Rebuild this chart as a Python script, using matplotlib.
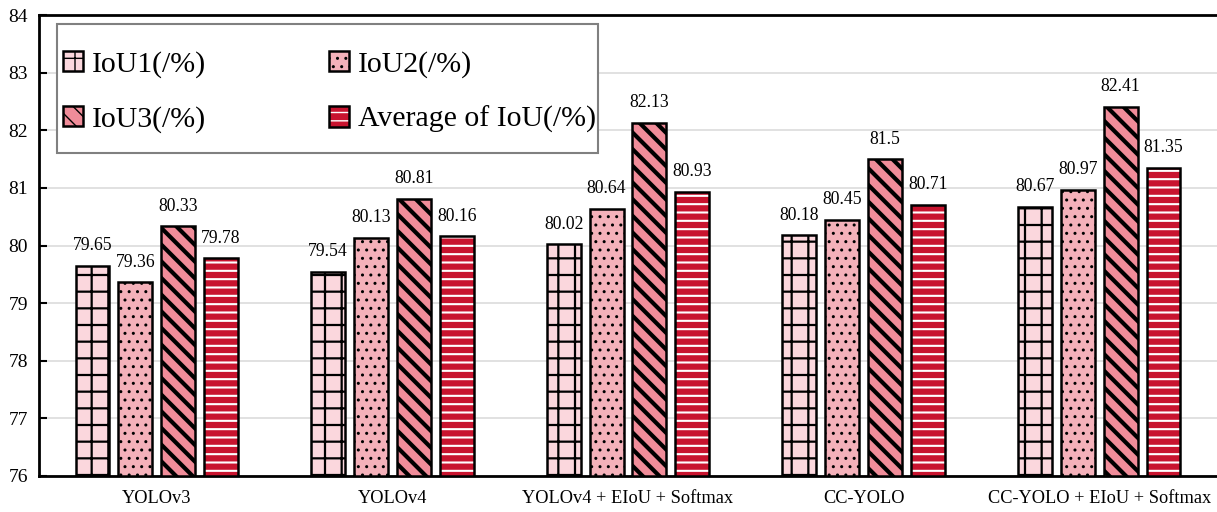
import matplotlib.pyplot as plt
import matplotlib.patches as mpatches
import numpy as np

plt.rcParams['font.family'] = ['Liberation Serif', 'DejaVu Serif']

# Data
models = ['YOLOv3', 'YOLOv4', 'YOLOv4 + EIoU + Softmax', 'CC-YOLO', 'CC-YOLO + EIoU + Softmax']
iou1 = [79.65, 79.54, 80.02, 80.18, 80.67]
iou2 = [79.36, 80.13, 80.64, 80.45, 80.97]
iou3 = [80.33, 80.81, 82.13, 81.5, 82.41]
iou_avg = [79.78, 80.16, 80.93, 80.71, 81.35]
series_names = ['IoU1(/%)', 'IoU2(/%)', 'IoU3(/%)', 'Average of IoU(/%)']
labels_txt = [['79.65', '79.54', '80.02', '80.18', '80.67'],
              ['79.36', '80.13', '80.64', '80.45', '80.97'],
              ['80.33', '80.81', '82.13', '81.5', '82.41'],
              ['79.78', '80.16', '80.93', '80.71', '81.35']]

fig = plt.figure(figsize=(12.17, 5.12), dpi=100)
ax = fig.add_axes([39/1217, 36/512, 1 - 39/1217, (476 - 15)/512])

x = np.arange(len(models))
w = 0.144
pitch = 0.182
offsets = [-1.5*pitch, -0.5*pitch, 0.5*pitch, 1.5*pitch]
base = 76

with plt.rc_context({'hatch.linewidth': 1.6}):
    b1 = ax.bar(x + offsets[0], np.array(iou1) - base, w, bottom=base, color='#fbd7dd',
                edgecolor='black', linewidth=1.8, hatch='+', zorder=3, label=series_names[0])
with plt.rc_context({'hatch.linewidth': 1.0}):
    b2 = ax.bar(x + offsets[1], np.array(iou2) - base, w, bottom=base, color='#f4b1ba',
                edgecolor='black', linewidth=1.8, hatch='..', zorder=3, label=series_names[1])
with plt.rc_context({'hatch.linewidth': 3.0}):
    b3 = ax.bar(x + offsets[2], np.array(iou3) - base, w, bottom=base, color='#f08c99',
                edgecolor='black', linewidth=1.8, hatch='\\\\', zorder=3, label=series_names[2])
with plt.rc_context({'hatch.linewidth': 1.5}):
    b4 = ax.bar(x + offsets[3], np.array(iou_avg) - base, w, bottom=base, color='#c8142f',
                edgecolor='black', linewidth=1.8, hatch='--', zorder=3, label=series_names[3])
# white stripes on the average bars
for p in b4.patches:
    p._hatch_color = (1, 1, 1, 1)

for k, vals in enumerate([iou1, iou2, iou3, iou_avg]):
    for i, v in enumerate(vals):
        ax.text(x[i] + offsets[k], v + 0.2, labels_txt[k][i], ha='center', va='bottom',
                fontsize=12.7, zorder=5)

ax.set_ylim(76, 84)
ax.set_xlim(-0.5, 4.5)
ax.set_yticks(range(76, 85))
ax.set_xticks(x)
ax.set_xticklabels(models, fontsize=13.2)
ax.tick_params(axis='y', direction='in', length=6, width=1.5, labelsize=14, pad=8)
ax.tick_params(axis='x', length=0, pad=10)
ax.yaxis.grid(True, color='#dcdcdc', linewidth=1.2, zorder=0)
ax.set_axisbelow(True)
for s in ['left', 'bottom', 'top']:
    ax.spines[s].set_linewidth(2)
ax.spines['right'].set_visible(False)

# legend frame drawn separately
ax.add_patch(mpatches.Rectangle((0.0153, 0.7007), 0.4592, 0.2798, transform=ax.transAxes,
                                facecolor='white', edgecolor='#808080', linewidth=1.5,
                                zorder=6))
leg = ax.legend(handles=[b1, b3, b2, b4], loc='center left', ncol=2, fontsize=21.5,
                bbox_to_anchor=(0.0166, 0.833), frameon=False, borderaxespad=0,
                handlelength=0.67, handleheight=0.67, handletextpad=0.3,
                columnspacing=4.1, labelspacing=0.95, borderpad=0.15)
leg.set_zorder(7)
leg.legend_handles[3]._hatch_color = (1, 1, 1, 1)

fig.savefig('out.png', dpi=100)
